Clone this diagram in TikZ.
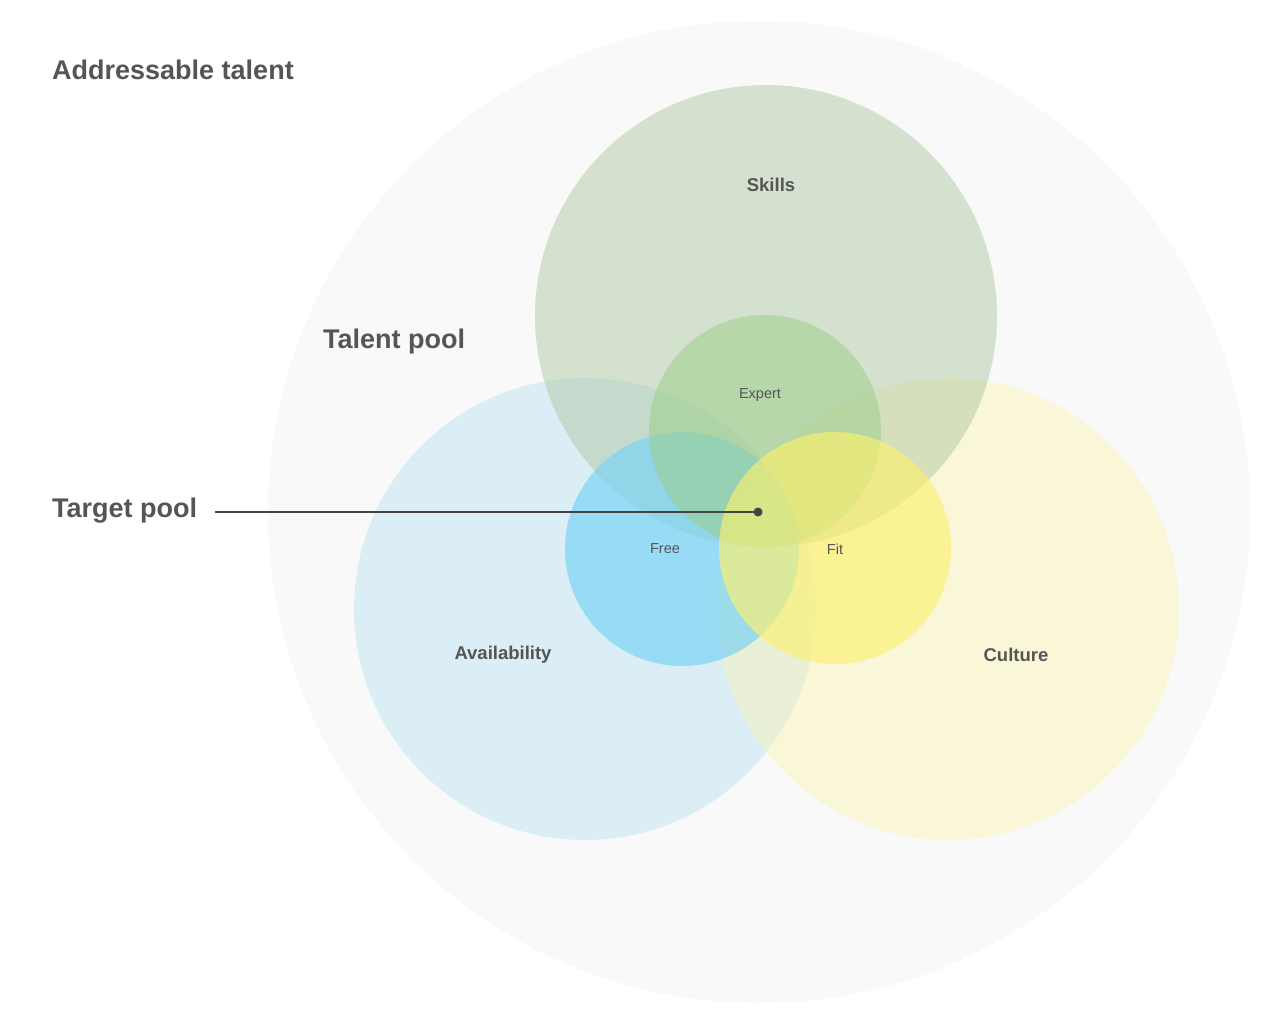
\documentclass[tikz,border=0pt]{standalone}
\usepackage{fontspec}
\setmainfont{Liberation Sans}
\begin{document}
\begin{tikzpicture}[x=1pt,y=-1pt,
  big/.style={font=\bfseries\fontsize{27}{32}\selectfont,text=txt,anchor=west,inner sep=0},
  mid/.style={font=\bfseries\fontsize{18.5}{22}\selectfont,text=txt,inner sep=0},
  small/.style={font=\fontsize{14.5}{17}\selectfont,text=txt,inner sep=0}]
\definecolor{txt}{HTML}{555555}
\definecolor{outer}{HTML}{F9F9F9}
\definecolor{skl}{HTML}{A8C49C}
\definecolor{avl}{HTML}{BFE3F2}
\definecolor{cul}{HTML}{FCF4B0}
\definecolor{exp}{HTML}{9CCF8A}
\definecolor{fre}{HTML}{7CD4F4}
\definecolor{fit}{HTML}{FCF170}
\useasboundingbox (0,0) rectangle (1280,1022);
\fill[white] (0,0) rectangle (1280,1022);
\fill[outer] (759,512) circle (491);
\fill[avl,fill opacity=0.5] (585,609) circle (231);
\fill[cul,fill opacity=0.45] (948,609) circle (231);
\fill[skl,fill opacity=0.45] (766,316) circle (231);
\fill[fre,fill opacity=0.7] (682,549) circle (117);
\fill[exp,fill opacity=0.55] (765,431) circle (116);
\fill[fit,fill opacity=0.65] (835,548) circle (116);
\node[big] (addr) at (52,70) {Addressable talent};
\node[big] (tal) at (323,342) {Talent pool};
\node[big] (tgt) at (52,511) {Target pool};
\node[mid] (skills) at (771,185) {Skills};
\node[mid] (avail) at (503,655) {Availability};
\node[mid] (cult) at (1016,655) {Culture};
\node[small] (expert) at (760,395) {Expert};
\node[small] (free) at (665,549) {Free};
\node[small] (fitl) at (835,549) {Fit};
\coordinate (ls) at (215,512);
\node[circle,fill=txt!80!black,inner sep=0,minimum size=9] (dot) at (758,512) {};
\draw[txt!80!black,line width=1.5] (ls) -- (dot.center);
\end{tikzpicture}
\end{document}
